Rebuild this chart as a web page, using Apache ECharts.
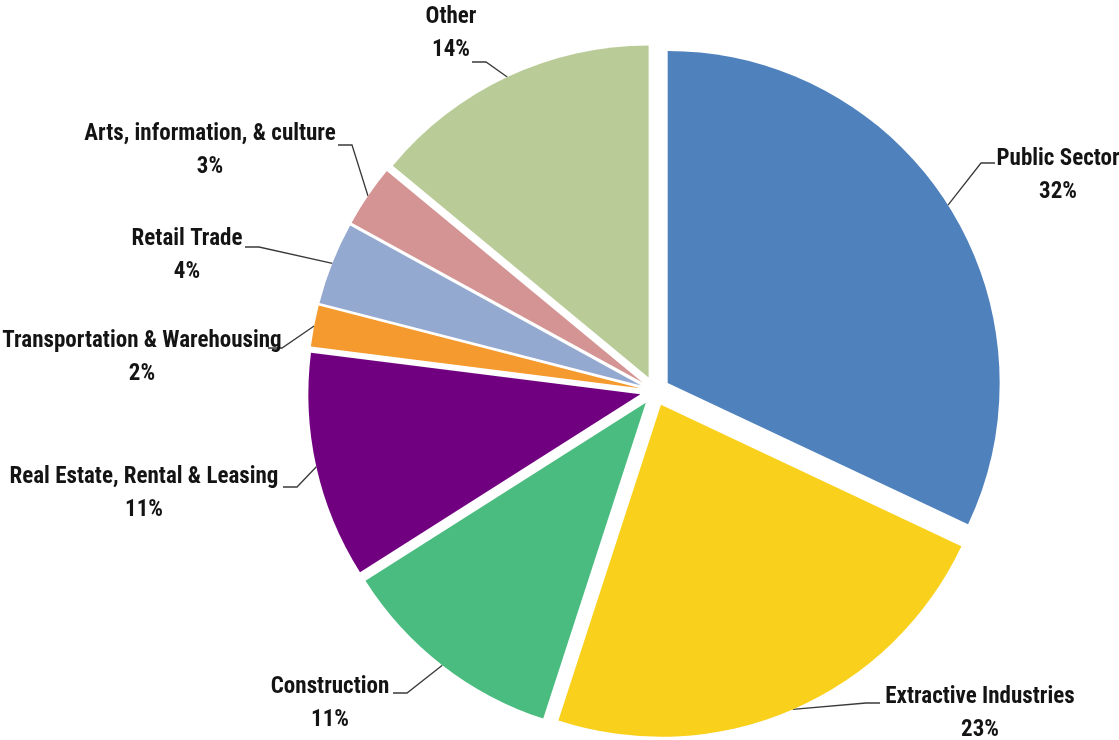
<!DOCTYPE html>
<html>
<head>
<meta charset="utf-8">
<script src="https://cdn.jsdelivr.net/npm/echarts@6/dist/echarts.min.js"></script>
<style>
  html, body { margin: 0; padding: 0; background: #fff; }
  #chart { width: 1119px; height: 740px; }
</style>
</head>
<body>
<div id="chart"></div>
<script>
// sectors, clockwise from 12 o'clock
const sectors = ['Public Sector', 'Extractive Industries', 'Construction',
  'Real Estate, Rental & Leasing', 'Transportation & Warehousing',
  'Retail Trade', 'Arts, information, & culture', 'Other']
const shares = [32, 23, 11, 11, 2, 4, 3, 14]
const colors = ['#4f81bd', '#f9d11c', '#4bbc80', '#70007f', '#f59a2e', '#94a9d0', '#d59494', '#b9cc97']

// label placement: text centre x/y, end of leader line x/y
const labelSpots = [
  [1058, 176, 995, 163],
  [980, 714, 880, 703],
  [330, 704, 393, 693],
  [144, 494, 283, 487],
  [142, 358, 268, 348],
  [187, 256, 245, 247],
  [210, 151, 338, 145],
  [451, 34, 472, 62]
]

const center = [655, 391]
const radius = 332
const explode = 15
const labelFont = "'Roboto Condensed', 'Noto Sans ExtraCondensed', 'Noto Sans Condensed', 'Liberation Sans Narrow', 'DejaVu Sans Condensed', sans-serif"

const chart = echarts.init(document.getElementById('chart'))

chart.setOption({
  animation: false,
  backgroundColor: '#fff',
  series: [
    {
      // the exploded slices
      type: 'pie',
      center: center,
      radius: radius,
      startAngle: 90,
      selectedMode: 'multiple',
      selectedOffset: explode,
      emphasis: { disabled: true },
      select: { itemStyle: { borderWidth: 0 } },
      label: { show: false },
      labelLine: { show: false },
      data: sectors.map((name, i) => ({
        name: name,
        value: shares[i],
        selected: true,
        itemStyle: { color: colors[i] }
      }))
    },
    {
      // same pie, invisible, only carries the labels and leader lines
      type: 'pie',
      silent: true,
      center: center,
      radius: radius + explode,
      startAngle: 90,
      emphasis: { disabled: true },
      itemStyle: { color: 'rgba(0,0,0,0)', borderWidth: 0 },
      label: {
        show: true,
        position: 'outside',
        formatter: '{b}\n{c}%',
        fontFamily: labelFont,
        fontWeight: 'bold',
        fontSize: 23,
        lineHeight: 33,
        color: '#141414',
        overflow: 'none'
      },
      labelLine: {
        show: true,
        length: 10,
        length2: 10,
        lineStyle: { color: '#3a3a3a', width: 1.3 }
      },
      labelLayout: function (params) {
        const s = labelSpots[params.dataIndex]
        const dir = s[2] < center[0] ? 1 : -1
        const p0 = params.labelLinePoints ? params.labelLinePoints[0] : [s[2], s[3]]
        return {
          x: s[0],
          y: s[1],
          align: 'center',
          verticalAlign: 'middle',
          labelLinePoints: [p0, [s[2] + dir * 14, s[3]], [s[2], s[3]]]
        }
      },
      data: sectors.map((name, i) => ({ name: name, value: shares[i] }))
    }
  ]
})
</script>
</body>
</html>
